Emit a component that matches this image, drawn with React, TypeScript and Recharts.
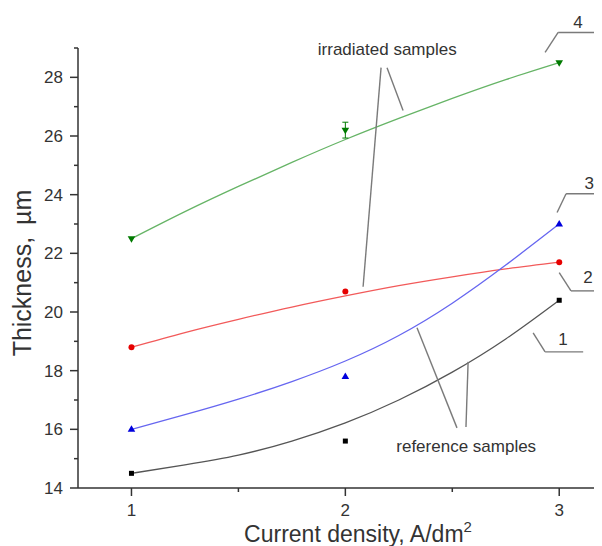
import React from "react";
import {
  ComposedChart,
  Line,
  XAxis,
  YAxis,
  ErrorBar,
  ReferenceLine,
  ReferenceDot,
} from "recharts";

// measured points
const pointX = [1, 2, 3];
const thick1 = [14.5, 15.6, 20.4];
const thick2 = [18.8, 20.7, 21.7];
const thick3 = [16.0, 17.8, 23.0];
const thick4 = [22.5, 26.2, 28.5];
const err4 = [0, 0.27, 0];

// fitted curves
const fitX = [1, 1.25, 1.5, 1.75, 2, 2.25, 2.5, 2.75, 3];
const fit1 = [14.5, 14.79, 15.12, 15.6, 16.22, 17.0, 17.95, 19.08, 20.4];
const fit2 = [18.8, 19.3, 19.75, 20.17, 20.55, 20.9, 21.2, 21.47, 21.7];
const fit3 = [16.0, 16.5, 17.03, 17.63, 18.33, 19.2, 20.3, 21.6, 23.0];
const fit4 = [22.5, 23.42, 24.28, 25.1, 25.88, 26.6, 27.28, 27.92, 28.5];

const xTicks = [1, 1.5, 2, 2.5, 3];
const yTicks = [14, 15, 16, 17, 18, 19, 20, 21, 22, 23, 24, 25, 26, 27, 28, 29];

// annotation leader lines, in data units
const leaders = [
  [2.167, 28.33, 2.083, 20.86],
  [2.195, 28.33, 2.27, 26.87],
  [2.522, 16.05, 2.335, 19.46],
  [2.564, 16.08, 2.574, 18.3],
  [2.934, 28.85, 2.995, 29.53],
  [2.995, 29.53, 3.177, 29.53],
  [2.99, 23.39, 3.032, 24.03],
  [3.032, 24.03, 3.2, 24.03],
  [3.0, 21.34, 3.055, 20.72],
  [3.055, 20.72, 3.2, 20.72],
  [2.878, 19.29, 2.934, 18.64],
  [2.934, 18.64, 3.112, 18.64],
];
const noteText = ["irradiated samples", "reference samples", "4", "3", "2", "1"];
const noteX = [2.196, 2.565, 3.088, 3.14, 3.135, 3.018];
const noteY = [28.95, 15.43, 29.87, 24.41, 21.2, 19.09];

const toRows = (xs: number[], ys: number[], errs?: number[]) =>
  xs.map((x, i) => ({ x, y: ys[i], err: errs ? errs[i] : 0 }));

const TEXT = "#333";

const XTick = (props: any) => {
  const { x, y, payload } = props;
  const major = Number.isInteger(payload.value);
  return (
    <g>
      <line x1={x} x2={x} y1={y} y2={y + (major ? 8 : 4)} stroke={TEXT} strokeWidth={1.5} />
      {major && (
        <text x={x} y={y + 28} textAnchor="middle" fontSize={17} fill={TEXT}>
          {payload.value}
        </text>
      )}
    </g>
  );
};

const YTick = (props: any) => {
  const { x, y, payload } = props;
  const major = payload.value % 2 === 0;
  return (
    <g>
      <line x1={x - (major ? 8 : 4)} x2={x} y1={y} y2={y} stroke={TEXT} strokeWidth={1.5} />
      {major && (
        <text x={x - 15} y={y + 6} textAnchor="end" fontSize={17} fill={TEXT}>
          {payload.value}
        </text>
      )}
    </g>
  );
};

const XTitle = () => (
  <text x={350} y={534} textAnchor="middle" fontSize={23} fill={TEXT}>
    <tspan>Current density, A/dm</tspan>
    <tspan dy={-10} fontSize={15}>2</tspan>
  </text>
);

const YTitle = () => (
  <text
    x={23}
    y={265}
    textAnchor="middle"
    fontSize={25}
    fill={TEXT}
    transform="rotate(-90, 23, 265)"
  >
    <tspan>Thickness,</tspan>
    <tspan dx={12}>µm</tspan>
  </text>
);

const square = (p: any) => (
  <rect key={p.index} x={p.cx - 2.5} y={p.cy - 2.5} width={5} height={5} fill="#000" />
);
const circle = (p: any) => (
  <circle key={p.index} cx={p.cx} cy={p.cy} r={3} fill="#e60000" />
);
const triUp = (p: any) => (
  <path
    key={p.index}
    d={`M${p.cx},${p.cy - 4} L${p.cx + 3.8},${p.cy + 2.5} L${p.cx - 3.8},${p.cy + 2.5} Z`}
    fill="#0000dd"
  />
);
const triDown = (p: any) => (
  <path
    key={p.index}
    d={`M${p.cx},${p.cy + 4} L${p.cx + 3.8},${p.cy - 2.5} L${p.cx - 3.8},${p.cy - 2.5} Z`}
    fill="#007a00"
  />
);

const noteShape = (i: number) => (p: any) => (
  <text x={p.cx} y={p.cy} dy="0.35em" textAnchor="middle" fontSize={17} fill={TEXT}>
    {noteText[i]}
  </text>
);

export default function App() {
  return (
    <div style={{ width: 594, height: 538, fontFamily: "Arial, 'Liberation Sans', sans-serif" }}>
      <ComposedChart
        width={594}
        height={538}
        margin={{ top: 40, right: 0, left: 10, bottom: 8 }}
      >
        <XAxis
          type="number"
          dataKey="x"
          domain={[0.75, 3.2]}
          allowDataOverflow
          ticks={xTicks}
          tickSize={0}
          tickMargin={0}
          tick={<XTick />}
          height={50}
          axisLine={{ stroke: TEXT, strokeWidth: 1.5 }}
          label={<XTitle />}
        />
        <YAxis
          type="number"
          domain={[14, 29]}
          allowDataOverflow
          ticks={yTicks}
          interval={0}
          tickSize={0}
          tickMargin={0}
          tick={<YTick />}
          width={60}
          axisLine={{ stroke: TEXT, strokeWidth: 1.5 }}
          label={<YTitle />}
        />

        <Line data={toRows(fitX, fit1)} dataKey="y" type="natural" stroke="#555" strokeWidth={1.3} dot={false} isAnimationActive={false} />
        <Line data={toRows(fitX, fit2)} dataKey="y" type="natural" stroke="#f25a5a" strokeWidth={1.3} dot={false} isAnimationActive={false} />
        <Line data={toRows(fitX, fit3)} dataKey="y" type="natural" stroke="#6666f0" strokeWidth={1.3} dot={false} isAnimationActive={false} />
        <Line data={toRows(fitX, fit4)} dataKey="y" type="natural" stroke="#66b466" strokeWidth={1.3} dot={false} isAnimationActive={false} />

        <Line data={toRows(pointX, thick1)} dataKey="y" stroke="none" dot={square} activeDot={false} isAnimationActive={false} />
        <Line data={toRows(pointX, thick2)} dataKey="y" stroke="none" dot={circle} activeDot={false} isAnimationActive={false} />
        <Line data={toRows(pointX, thick3)} dataKey="y" stroke="none" dot={triUp} activeDot={false} isAnimationActive={false} />
        <Line data={toRows(pointX, thick4, err4)} dataKey="y" stroke="none" dot={triDown} activeDot={false} isAnimationActive={false}>
          <ErrorBar dataKey="err" direction="y" width={3} stroke="#007a00" strokeWidth={1} />
        </Line>

        {leaders.map((s, i) => (
          <ReferenceLine
            key={"l" + i}
            segment={[{ x: s[0], y: s[1] }, { x: s[2], y: s[3] }]}
            stroke="#7a7a7a"
            strokeWidth={1.4}
            ifOverflow="visible"
          />
        ))}
        {noteText.map((t, i) => (
          <ReferenceDot
            key={"n" + i}
            x={noteX[i]}
            y={noteY[i]}
            r={1}
            ifOverflow="visible"
            shape={noteShape(i)}
          />
        ))}
      </ComposedChart>
    </div>
  );
}
